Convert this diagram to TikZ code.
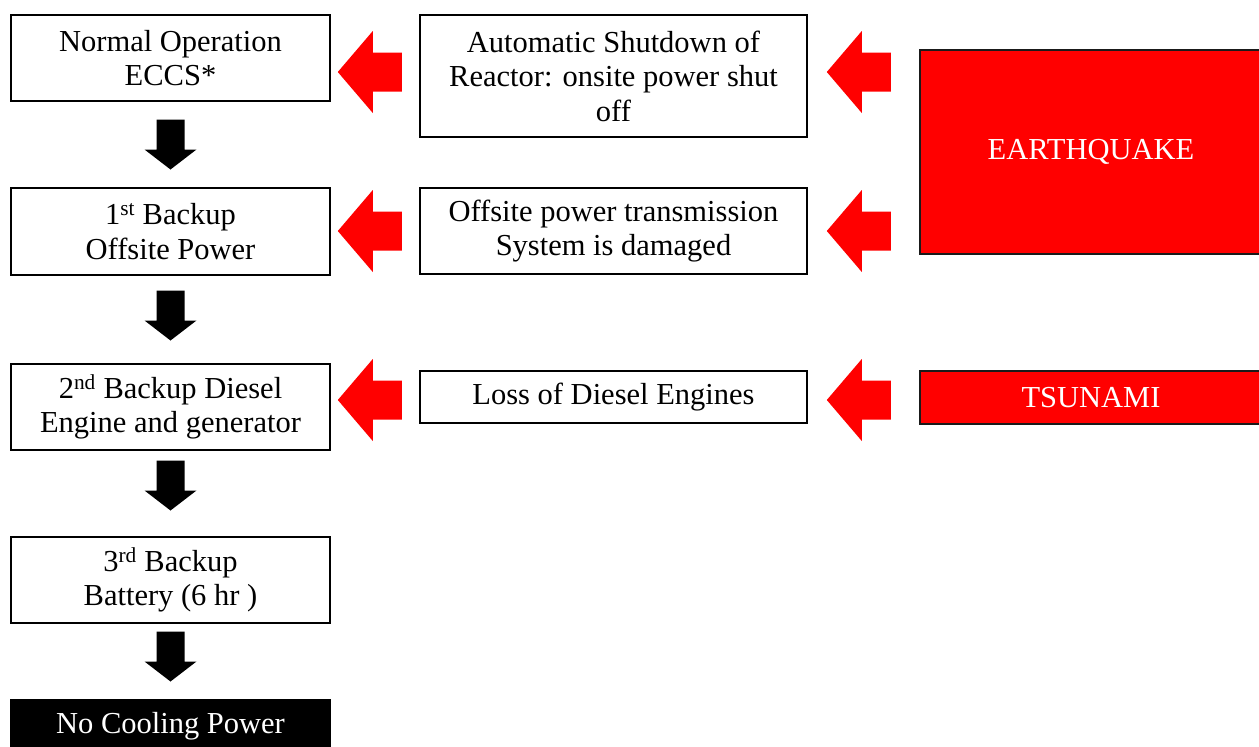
\documentclass[tikz,border=0pt]{standalone}
\usepackage{fontspec}
\setmainfont{Liberation Serif}
\usetikzlibrary{calc}
\definecolor{quakered}{HTML}{FF0000}
\definecolor{rimgrey}{HTML}{1A1A1A}

\begin{document}
\begin{tikzpicture}[x=1pt,y=-1pt,font=\fontsize{30.5}{34.5}\selectfont,
    stepbox/.style={draw,line width=1.6pt,align=center,inner sep=0pt},
    causebox/.style={stepbox,draw=rimgrey,fill=quakered,text=white},
    downarr/.pic={\fill[black] (-14,0)--(-14,30)--(-26,30)--(0,50)--(26,30)--(14,30)--(14,0)--cycle;},
    leftarr/.pic={\fill[quakered] (0,0)--(35,-41)--(35,-19.5)--(64,-19.5)--(64,19.5)--(35,19.5)--(35,41)--cycle;}]
  \useasboundingbox (0,0) rectangle (1259,747);
  % left column: backup chain
  \node[stepbox,minimum width=319,minimum height=86] (n0) at (170.5,58) {Normal Operation\\ECCS*};
  \node[stepbox,minimum width=319,minimum height=87] (n1) at (170.5,231.5) {1\textsuperscript{st} Backup\\Offsite Power};
  \node[stepbox,minimum width=319,minimum height=86] (n2) at (170.5,407) {2\textsuperscript{nd} Backup Diesel\\Engine and generator};
  \node[stepbox,minimum width=319,minimum height=86] (n3) at (170.5,580) {3\textsuperscript{rd} Backup\\Battery (6 hr )};
  \node[stepbox,fill=black,text=white,minimum width=319,minimum height=52] (nc) at (170.5,726) {No Cooling Power};
  % middle column: what happened
  \node[stepbox,minimum width=387,minimum height=122] (m0) at (613.5,76) {Automatic Shutdown of\\Reactor: onsite power shut\\off};
  \node[stepbox,minimum width=387,minimum height=86] (m1) at (613.5,231) {Offsite power transmission\\System is damaged};
  \node[stepbox,minimum width=387,minimum height=52] (m2) at (613.5,397) {Loss of Diesel Engines};
  % right column: causes
  \node[causebox,minimum width=342,minimum height=204] (quake) at (1091,152) {EARTHQUAKE};
  \node[causebox,minimum width=342,minimum height=53] (wave) at (1091,397.5) {TSUNAMI};
  % black arrows down the chain
  \foreach \a/\b/\d in {n0/n1/0,n1/n2/-4,n2/n3/-8,n3/nc/-5}
    \path ($(\a.south)!.5!(\b.north)$) ++(0,-25+\d) pic {downarr};
  % red arrows pointing left
  \foreach \n/\m/\y in {n0/m0/72,n1/m1/231,n2/m2/400}{
    \path (\n.east |- 0,\y) ++(7,0) pic {leftarr};
    \path (\m.east |- 0,\y) ++(19,0) pic {leftarr};
  }
\end{tikzpicture}
\end{document}
